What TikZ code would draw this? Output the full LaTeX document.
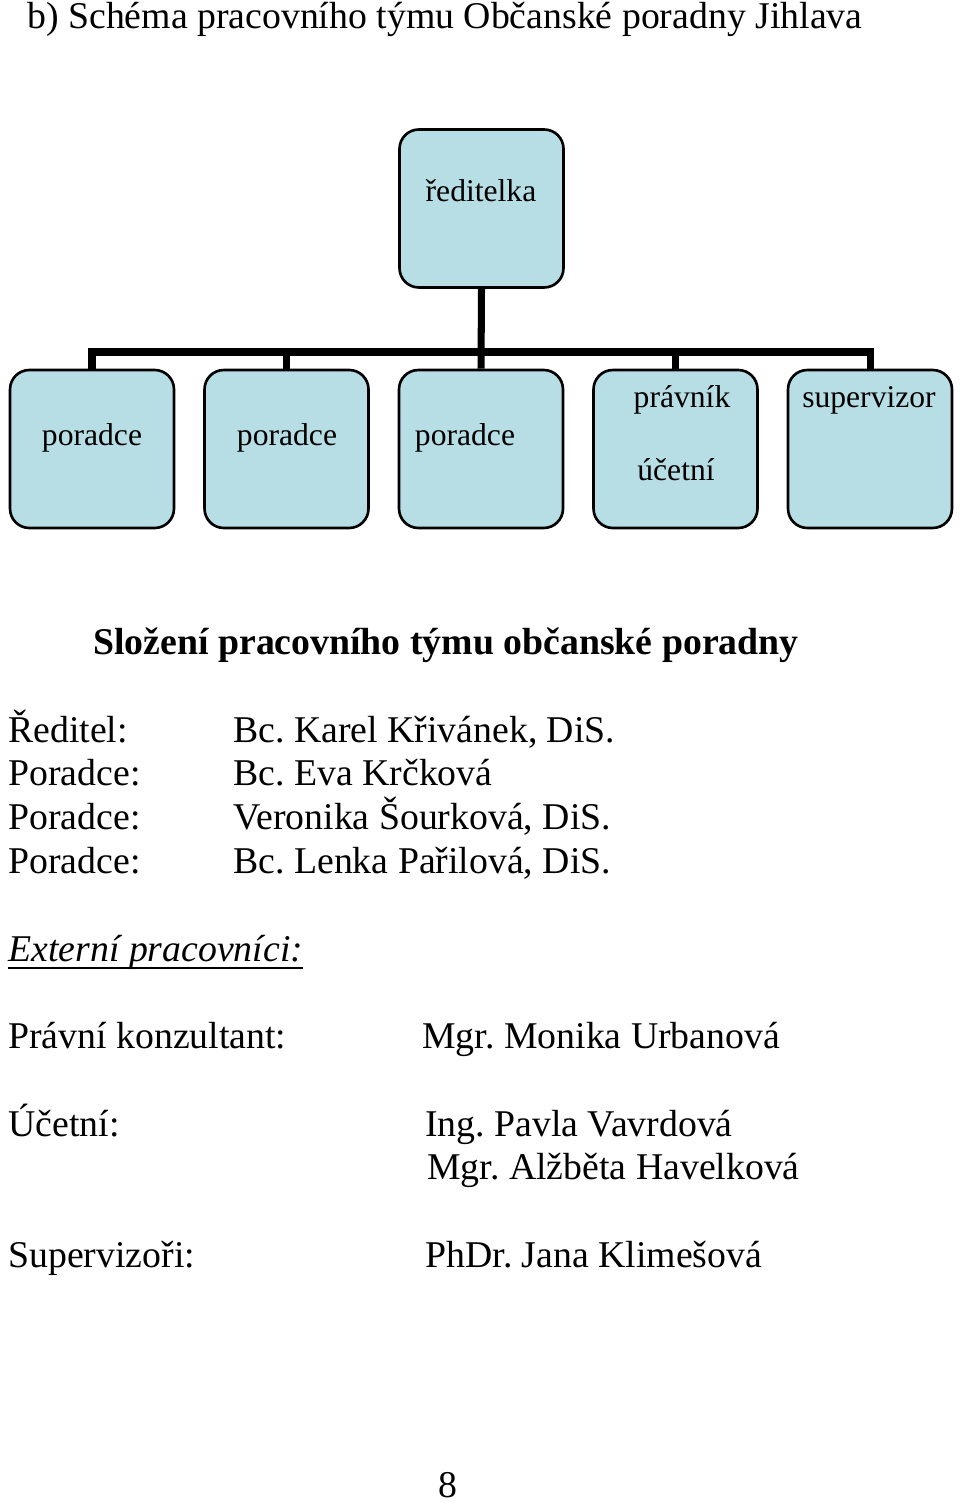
\documentclass[tikz,border=0pt]{standalone}
\usepackage{fontspec}
\setmainfont{Liberation Serif}
\usetikzlibrary{positioning,calc}
\definecolor{BoxBlue}{RGB}{183,222,228}
\frenchspacing
\tikzset{
  box/.style={draw=black,fill=BoxBlue,line width=1.5pt,rounded corners=11pt,inner sep=0pt,
    minimum width=3.28cm,minimum height=3.16cm},
  conn/.style={draw=black,line width=4pt},
  boxtxt/.style={anchor=base,inner sep=0pt,font=\fontsize{18}{20}\selectfont},
}
\tikzset{row/.style={anchor=base west,inner sep=0pt,font=\fontsize{21.5}{25}\selectfont}, head/.style={row,font=\fontsize{21.5}{25}\selectfont\bfseries}}
\begin{document}
\begin{tikzpicture}[x=0.02cm,y=-0.02cm]
\useasboundingbox (0,0) rectangle (960,1503);
\node[row](title) at (27,29){b) Schéma pracovního týmu Občanské poradny Jihlava};
\node[box](dir) at (481.5,208.5){};\node[boxtxt] at (481,202){ředitelka};
\node[box](b1) at (92,449){};\node[boxtxt] at (92,445){poradce};
\node[box](b2) at (286.5,449){};\node[boxtxt] at (287,445){poradce};
\node[box](b3) at (481,449){};\node[boxtxt] at (465,445){poradce};
\node[box](b4) at (675.5,449){};\node[boxtxt] at (682,407){právník};\node[boxtxt] at (676,480){účetní};
\node[box](b5) at (870,449){};\node[boxtxt] at (869,407){supervizor};
\coordinate (bar) at (0,352);
\draw[conn](b1.north)|-(b5.north|-bar)--(b5.north);
\draw[conn](dir.south)--(b3.north);
\draw[conn](b2.north)--(b2.north|-bar);\draw[conn](b4.north)--(b4.north|-bar);
\node[head](heading) at (93,654){Složení pracovního týmu občanské poradny};
\node[row](l1) at (8,742){Ředitel:};\node[row](v1) at (233,742){Bc. Karel Křivánek, DiS.};
\node[row](l2) at (8,785){Poradce:};\node[row](v2) at (233,785){Bc. Eva Krčková};
\node[row](l3) at (8,829){Poradce:};\node[row](v3) at (233,829){Veronika Šourková, DiS.};
\node[row](l4) at (8,873){Poradce:};\node[row](v4) at (233,873){Bc. Lenka Pařilová, DiS.};
\node[row](ext) at (8,961){\textit{Externí pracovníci:}};
\draw[line width=1.1pt](ext.south west|-0,968)--(ext.south east|-0,968);
\node[row](e1) at (8,1048){Právní konzultant:};\node[row](f1) at (422,1048){Mgr. Monika Urbanová};
\node[row](e2) at (8,1136){Účetní:};\node[row](f2) at (425,1136){Ing. Pavla Vavrdová};
\node[row](f3) at (427,1179){Mgr. Alžběta Havelková};
\node[row](e3) at (8,1267){Supervizoři:};\node[row](f4) at (425,1267){PhDr. Jana Klimešová};
\node[row,anchor=base](page) at (448,1497){8};
\end{tikzpicture}
\end{document}
